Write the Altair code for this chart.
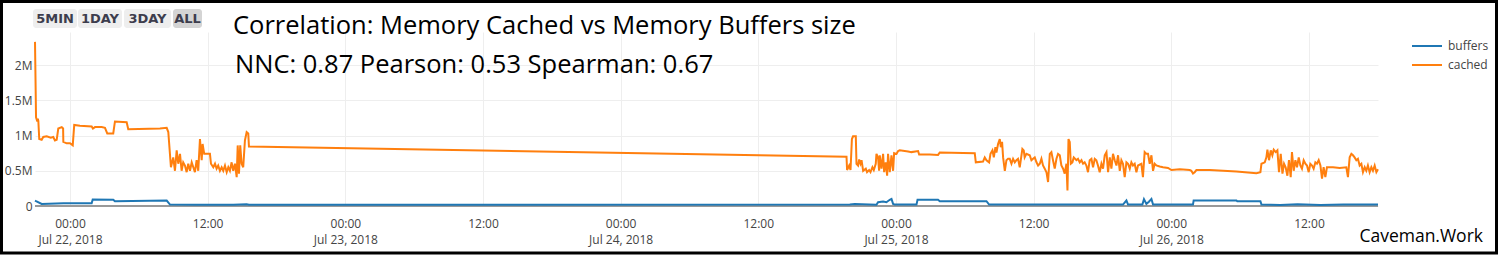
import altair as alt
import pandas as pd

# ---------------- data ----------------
BASE = pd.Timestamp("2018-07-22 00:00:00")

# hours relative to Jul 22, 2018 00:00 and value in millions
cached_hours = [
    -3.05, -2.96, -2.85, -2.80, -2.76, -2.68, -2.47, -2.33, -2.03, -1.68, -1.46, -1.31, -1.16,
    -1.02, -0.72, -0.60, -0.58, -0.29, 0.00, 0.24, 0.37, 0.87, 1.89, 2.00, 2.18, 2.76, 3.05,
    3.25, 3.77, 3.92, 4.94, 5.08, 7.84, 8.43, 8.57,
    8.80, 9.00, 9.15, 9.30, 9.44, 9.59, 9.73, 9.87, 10.02, 10.17, 10.31, 10.46, 10.61, 10.75,
    10.89, 11.04, 11.18, 11.33, 11.48, 11.56, 11.70, 12.20, 12.29, 12.49, 12.64, 12.78, 12.92,
    13.07, 13.22, 13.36, 13.51, 13.66, 13.80, 13.94, 14.09, 14.23, 14.38, 14.53, 14.62, 14.73,
    14.84, 14.96, 15.10, 15.25, 15.40, 15.54, 15.60,
    67.69, 67.74, 67.92, 68.04, 68.16, 68.26, 68.50, 68.56, 68.70, 68.79, 68.91, 69.00, 69.14,
    69.37, 69.48, 69.66, 69.78, 69.95, 70.07, 70.24, 70.30, 70.44, 70.53, 70.59, 70.74, 70.88,
    70.97, 71.11, 71.23, 71.31, 71.46, 71.61, 71.75, 71.84, 72.05, 72.19, 72.33, 73.06, 73.35,
    73.93, 74.02, 74.95, 75.67, 75.82, 78.87, 78.96, 79.59, 79.74, 79.89, 80.12, 80.24, 80.41,
    80.53, 80.67, 80.76, 80.90, 81.05, 81.14, 81.25, 81.34, 81.49, 81.63, 81.77,
    81.92, 82.07, 82.21, 82.36, 82.50, 82.64, 82.79, 82.94, 83.02, 83.14, 83.22, 83.37, 83.66,
    83.81, 83.95, 84.10, 84.25, 84.39, 84.54, 84.68, 84.82, 84.97, 85.12, 85.26, 85.41, 85.55,
    85.69, 85.84, 85.99, 86.13, 86.28, 86.42, 86.57, 86.71, 86.86, 86.95, 87.04, 87.15, 87.24,
    87.38, 87.50, 87.73, 87.87, 88.02, 88.17, 88.31, 88.45, 88.60, 88.74, 88.89, 89.04, 89.18,
    89.33, 89.47, 89.61, 89.76, 89.91, 90.05, 90.20, 90.35, 90.49, 90.64, 90.78, 90.92, 91.07,
    91.22, 91.36, 91.51, 91.65, 91.79, 91.94, 92.09, 92.23, 92.38, 92.52, 92.66, 92.81, 92.96,
    93.10, 93.39, 93.53, 93.68, 93.83, 93.97, 94.12, 94.27, 94.41, 94.55, 94.70, 94.99, 95.28,
    95.72, 96.01, 96.74,
    97.61, 97.75, 97.89, 98.04, 98.19, 99.35, 101.68, 103.42, 103.77, 103.86, 104.15, 104.29,
    104.38, 104.52, 104.67, 104.81, 104.93, 105.10, 105.25, 105.39, 105.54, 105.69, 105.83,
    105.97, 106.12, 106.26, 106.41, 106.52, 106.67, 106.82, 106.96, 107.11, 107.25, 107.39,
    107.54, 107.69, 107.83, 107.98, 108.12, 108.27, 108.41, 108.56, 108.70, 108.85, 109.00,
    109.14, 109.28, 109.43, 109.57, 110.10, 110.68, 111.26, 111.40, 111.55, 111.70, 111.84,
    111.98, 112.13, 112.27, 112.42, 112.57, 112.71, 112.86, 113.00, 113.14, 113.29, 113.44,
    113.58, 113.73, 113.88, 114.02,
]
cached_values = [
    2.33, 1.26, 1.20, 1.24, 1.21, 0.95, 0.94, 0.98, 0.99, 0.97, 0.98, 0.93, 0.94,
    1.10, 1.12, 1.10, 0.91, 0.89, 0.89, 0.86, 1.15, 1.14, 1.13, 1.10, 1.12, 1.12, 1.11,
    1.03, 1.03, 1.20, 1.19, 1.09, 1.10, 1.11, 1.05,
    0.55, 0.69, 0.50, 0.79, 0.60, 0.74, 0.50, 0.62, 0.575, 0.48, 0.60, 0.50, 0.62, 0.55,
    0.48, 0.65, 0.50, 0.95, 0.65, 0.88, 0.74, 0.74, 0.60, 0.55, 0.60, 0.53, 0.575,
    0.50, 0.55, 0.50, 0.575, 0.48, 0.55, 0.50, 0.62, 0.50, 0.60, 0.41, 0.86, 0.46,
    0.86, 0.60, 0.55, 0.93, 1.05, 1.03, 0.845,
    0.70, 0.51, 0.575, 0.51, 0.95, 0.99, 0.99, 0.60, 0.575, 0.66, 0.60, 0.65, 0.50,
    0.53, 0.48, 0.51, 0.48, 0.55, 0.51, 0.60, 0.74, 0.69, 0.50, 0.72, 0.53, 0.74,
    0.48, 0.62, 0.43, 0.74, 0.48, 0.72, 0.50, 0.75, 0.74, 0.78, 0.79, 0.775, 0.765,
    0.78, 0.73, 0.73, 0.725, 0.76, 0.75, 0.62, 0.63, 0.69, 0.65, 0.62, 0.74, 0.79,
    0.69, 0.835, 0.76, 0.88, 0.95, 0.835, 0.91, 0.69, 0.50, 0.65, 0.67,
    0.67, 0.60, 0.67, 0.62, 0.65, 0.67, 0.55, 0.72, 0.81, 0.79, 0.69, 0.74, 0.72,
    0.65, 0.67, 0.69, 0.62, 0.575, 0.60, 0.67, 0.575, 0.53, 0.48, 0.34, 0.74, 0.765,
    0.65, 0.53, 0.67, 0.74, 0.72, 0.575, 0.53, 0.46, 0.60, 0.22, 0.95, 0.91, 0.60,
    0.62, 0.69, 0.65, 0.67, 0.62, 0.65, 0.60, 0.62, 0.575, 0.48, 0.65, 0.67, 0.55,
    0.67, 0.65, 0.575, 0.48, 0.60, 0.53, 0.72, 0.765, 0.48, 0.69, 0.53, 0.74, 0.65,
    0.575, 0.72, 0.50, 0.65, 0.60, 0.41, 0.62, 0.60, 0.53, 0.62, 0.575, 0.60, 0.48,
    0.575, 0.60, 0.41, 0.765, 0.74, 0.74, 0.60, 0.72, 0.50, 0.60, 0.575, 0.56, 0.55,
    0.54, 0.51, 0.52,
    0.51, 0.50, 0.46, 0.48, 0.51, 0.51, 0.49, 0.465, 0.48, 0.60, 0.62, 0.69,
    0.80, 0.65, 0.79, 0.72, 0.80, 0.765, 0.79, 0.48, 0.74, 0.46, 0.60,
    0.55, 0.43, 0.65, 0.41, 0.765, 0.50, 0.65, 0.55, 0.69, 0.575, 0.53,
    0.65, 0.60, 0.575, 0.48, 0.60, 0.575, 0.53, 0.62, 0.60, 0.65, 0.575,
    0.39, 0.55, 0.41, 0.55, 0.55, 0.54, 0.55, 0.41, 0.69, 0.74, 0.72,
    0.69, 0.65, 0.67, 0.575, 0.60, 0.48, 0.55, 0.50, 0.575, 0.48, 0.55,
    0.50, 0.575, 0.48, 0.52,
]

buffers_hours = [
    -3.05, -2.96, -2.47, -0.58, 1.89, 1.98, 3.77, 3.92, 8.43, 8.72, 11.00, 14.23, 15.40, 15.60,
    67.98, 68.41, 70.30, 70.44, 70.88, 71.17, 71.46, 71.61, 71.75, 71.90, 73.79, 73.88, 75.67,
    75.82, 79.89, 80.12, 87.00, 91.79, 92.09, 92.23, 93.48, 93.62, 93.83, 94.05, 94.27, 94.41,
    97.89, 97.95, 101.68, 101.75, 103.77, 103.86, 105.50, 107.00, 109.00, 111.00, 114.02,
]
buffers_values = [
    0.078, 0.070, 0.030, 0.040, 0.040, 0.092, 0.090, 0.068, 0.078, 0.020, 0.018, 0.016, 0.025, 0.018,
    0.020, 0.030, 0.018, 0.054, 0.064, 0.054, 0.088, 0.100, 0.030, 0.020, 0.020, 0.088, 0.088,
    0.068, 0.068, 0.020, 0.022, 0.020, 0.078, 0.020, 0.020, 0.097, 0.030, 0.060, 0.100, 0.020,
    0.020, 0.078, 0.078, 0.068, 0.068, 0.020, 0.015, 0.025, 0.015, 0.022, 0.020,
]

series_names = ["buffers", "cached"]
series_colors = ["#1f77b4", "#ff7f0e"]
y_tick_values = [0, 0.5, 1, 1.5, 2]
# x tick positions: every 12 hours (day, hour)
x_tick_days = [22, 22, 23, 23, 24, 24, 25, 25, 26, 26]
x_tick_hours = [0, 12, 0, 12, 0, 12, 0, 12, 0, 12]
title_text = "Correlation: Memory Cached vs Memory Buffers size"
stats_text = "NNC: 0.87 Pearson: 0.53 Spearman: 0.67"
watermark_text = "Caveman.Work"
button_labels = ["5MIN", "1DAY", "3DAY", "ALL"]

# ---------------- layout constants (not data) ----------------
PAD_L, PAD_T, PAD_R, PAD_B = 35, 32, 120, 49
W, H = 1498 - PAD_L - PAD_R, 255 - PAD_T - PAD_B
FONT = "Open Sans"

button_x0 = [-2, 43, 89, 138]
button_x1 = [42, 87, 136, 167]
button_fill = ["#eeeeee", "#eeeeee", "#eeeeee", "#d4d4d4"]


def series_frame(name, hours, values):
    times = [(BASE + pd.Timedelta(hours=h)).strftime("%Y-%m-%dT%H:%M:%S") for h in hours]
    return pd.DataFrame({"time": times, "value": values, "series": name})


df = pd.concat(
    [series_frame("buffers", buffers_hours, buffers_values),
     series_frame("cached", cached_hours, cached_values)],
    ignore_index=True,
)

one = pd.DataFrame({"k": [0]})

x_values = [alt.DateTime(year=2018, month=7, date=d, hours=h) for d, h in zip(x_tick_days, x_tick_hours)]

x_label_expr = (
    "hours(datum.value) == 0 ? [timeFormat(datum.value, '%H:%M'), timeFormat(datum.value, '%b %d, %Y')]"
    " : timeFormat(datum.value, '%H:%M')"
)

x_enc = alt.X(
    "time:T",
    scale=alt.Scale(nice=False),
    axis=alt.Axis(
        title=None, domain=False, ticks=False, grid=True, gridColor="#eeeeee", gridWidth=1,
        values=x_values,
        labelExpr=x_label_expr, labelFont=FONT, labelFontSize=12, labelColor="#444444",
        labelPadding=12, labelLineHeight=16, labelAlign="center", labelBaseline="top",
        labelFlush=False, labelOverlap=False,
    ),
)
y_enc = alt.Y(
    "value:Q",
    scale=alt.Scale(domain=[0, 2.47], nice=False),
    axis=alt.Axis(
        title=None, domain=False, ticks=False, grid=True, gridColor="#eeeeee", gridWidth=1,
        values=y_tick_values,
        labelExpr="datum.value == 0 ? '0' : datum.value + 'M'",
        labelFont=FONT, labelFontSize=12, labelColor="#444444", labelPadding=3,
    ),
)

lines = alt.Chart(df).mark_line(strokeWidth=2).encode(
    x=x_enc,
    y=y_enc,
    color=alt.Color(
        "series:N",
        scale=alt.Scale(domain=series_names, range=series_colors),
        legend=alt.Legend(
            title=None, orient="none", legendX=1376, legendY=6.5,
            symbolType="stroke", symbolSize=900, symbolStrokeWidth=2,
            labelFont=FONT, labelFontSize=12, labelColor="#444444", labelOffset=5,
            clipHeight=15, rowPadding=4,
        ),
    ),
)

zero_line = alt.Chart(one).mark_rule(color="#999999", strokeWidth=2).encode(y=alt.datum(0))

title_mark = alt.Chart(one).mark_text(
    text=title_text, font=FONT, fontSize=25.5, color="black", align="left", baseline="alphabetic"
).encode(x=alt.value(198), y=alt.value(1.5))

stats_mark = alt.Chart(one).mark_text(
    text=stats_text, font=FONT, fontSize=25.5, color="black", align="left", baseline="alphabetic"
).encode(x=alt.value(200), y=alt.value(40.7))

watermark_mark = alt.Chart(one).mark_text(
    text=watermark_text, font=FONT, fontSize=17.5, color="black", align="right", baseline="alphabetic"
).encode(x=alt.value(1448), y=alt.value(210.3))

button_layers = []
for lab, x0, x1, fill in zip(button_labels, button_x0, button_x1, button_fill):
    button_layers.append(
        alt.Chart(one).mark_rect(fill=fill, cornerRadius=3).encode(
            x=alt.value(x0), x2=alt.value(x1), y=alt.value(-23), y2=alt.value(-4)
        )
    )
    button_layers.append(
        alt.Chart(one).mark_text(
            text=lab, font="DejaVu Sans", fontWeight="bold", fontSize=13, color="#3d3d4d",
            align="center", baseline="middle",
        ).encode(x=alt.value((x0 + x1) / 2), y=alt.value(-13.5))
    )

border = alt.Chart(one).mark_rect(fillOpacity=0, stroke="black", strokeWidth=3).encode(
    x=alt.value(-PAD_L + 1.5), x2=alt.value(W + PAD_R - 1.5),
    y=alt.value(-PAD_T + 1.5), y2=alt.value(H + PAD_B - 2),
)

chart = alt.layer(
    zero_line, lines, title_mark, stats_mark, watermark_mark, *button_layers, border
).properties(
    width=W, height=H,
    autosize=alt.AutoSizeParams(type="none"),
    padding={"left": PAD_L, "top": PAD_T, "right": PAD_R, "bottom": PAD_B},
    background="white",
).configure_view(strokeWidth=0)

chart.save("out.html", embed_options={"renderer": "svg", "actions": False})
